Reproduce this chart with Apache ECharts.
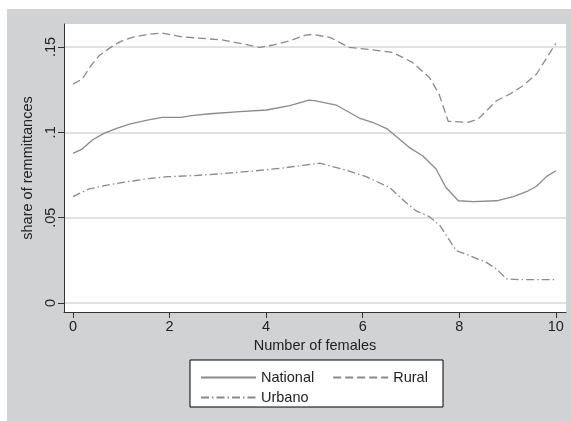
<!DOCTYPE html>
<html><head><meta charset="utf-8">
<script src="https://cdn.jsdelivr.net/npm/echarts@6/dist/echarts.min.js"></script>
<style>
html,body{margin:0;padding:0;background:#fff;width:571px;height:421px;overflow:hidden}
#c{position:absolute;left:7px;top:9px;width:564px;height:412px;background:#d1d2d4}
</style></head><body><div id="c"></div>
<script>
// Data
const xTicks = [0, 2, 4, 6, 8, 10];
const yTicks = [0, 0.05, 0.1, 0.15];
const yTickLabels = ['0', '.05', '.1', '.15'];

const nationalX = [0,0.19,0.4,0.64,0.92,1.19,1.54,1.85,2.23,2.5,2.84,3.46,4.01,4.49,4.89,5.03,5.45,5.93,6.2,6.51,6.96,7.24,7.52,7.72,7.98,8.29,8.77,9.12,9.39,9.6,9.81,10];
const nationalY = [0.0877,0.0902,0.0955,0.0994,0.1025,0.1049,0.1072,0.1088,0.1088,0.1100,0.1109,0.1121,0.1131,0.1156,0.1189,0.1185,0.1160,0.1084,0.1059,0.1020,0.0912,0.0863,0.0785,0.0678,0.0599,0.0594,0.0599,0.0623,0.0652,0.0684,0.0742,0.0775];

const ruralX = [0,0.19,0.37,0.54,0.78,0.99,1.23,1.54,1.85,2.26,3.11,3.46,3.87,4.15,4.49,4.8,4.95,5.32,5.72,6.13,6.62,7.03,7.38,7.58,7.77,8.18,8.39,8.77,9.05,9.32,9.6,10];
const ruralY = [0.1283,0.1312,0.1390,0.1449,0.1498,0.1533,0.1557,0.1574,0.1582,0.1560,0.1541,0.1522,0.1498,0.1512,0.1537,0.1568,0.1574,0.1557,0.1498,0.1486,0.1469,0.1410,0.1322,0.1225,0.1065,0.1059,0.1078,0.1185,0.1225,0.1273,0.1342,0.1522];

const urbanoX = [0,0.33,0.71,1.19,1.54,1.95,2.47,3.11,3.8,4.35,4.77,5.11,5.65,6.07,6.55,6.89,7.1,7.38,7.6,7.94,8.22,8.56,8.77,8.98,9.25,10];
const urbanoY = [0.0623,0.0668,0.0691,0.0713,0.0728,0.0740,0.0746,0.0758,0.0775,0.0791,0.0807,0.0819,0.0779,0.0740,0.0678,0.0590,0.0541,0.0506,0.0453,0.0306,0.0277,0.0238,0.0199,0.0141,0.0137,0.0137];

const zip = (xs, ys) => xs.map((x, i) => [x, ys[i]]);
const FONT = "'Liberation Sans', Arial, sans-serif";
const LC = '#8a8a8a';

const chart = echarts.init(document.getElementById('c'), null, {renderer: 'canvas'});
chart.setOption({
  animation: false,
  grid: {left: 57, top: 15, width: 502, height: 288, show: true, backgroundColor: '#ffffff', borderWidth: 0},
  xAxis: {
    type: 'value', min: -0.186, max: 10.21,
    name: 'Number of females', nameLocation: 'middle', nameGap: 24,
    nameTextStyle: {fontFamily: FONT, fontSize: 14.5, color: '#222'},
    axisLine: {show: true, onZero: false, lineStyle: {color: '#333', width: 1}},
    axisTick: {show: true, length: 6, customValues: xTicks, lineStyle: {color: '#333'}},
    axisLabel: {customValues: xTicks, margin: 7, fontFamily: FONT, fontSize: 14.5, color: '#222'},
    splitLine: {show: false}
  },
  yAxis: {
    type: 'value', min: -0.0053, max: 0.1635,
    name: 'share of remmittances', nameLocation: 'middle', nameGap: 18, nameRotate: 90,
    nameTextStyle: {fontFamily: FONT, fontSize: 14.5, color: '#222'},
    axisLine: {show: true, onZero: false, lineStyle: {color: '#333', width: 1}},
    axisTick: {show: true, length: 6, customValues: yTicks, lineStyle: {color: '#333'}},
    axisLabel: {customValues: yTicks, rotate: 90, margin: 6, fontFamily: FONT, fontSize: 14.5, color: '#222',
      formatter: v => { const i = yTicks.findIndex(t => Math.abs(t - v) < 1e-9); return i >= 0 ? yTickLabels[i] : ''; }},
    splitLine: {show: true, lineStyle: {color: '#d9d9d9', width: 1.5}}
  },
  graphic: [{type: 'rect', z: 1, shape: {x: 183, y: 351, width: 253, height: 47},
    style: {fill: '#fff', stroke: '#000', lineWidth: 1}}],
  legend: [
    {data: ['National', 'Rural'], left: 188, top: 356, itemWidth: 55, itemHeight: 12, itemGap: 18, z: 10,
     itemStyle: {opacity: 0},
     textStyle: {fontFamily: FONT, fontSize: 14.5, color: '#222'}},
    {data: ['Urbano'], left: 188, top: 376, itemWidth: 55, itemHeight: 12, z: 10,
     itemStyle: {opacity: 0},
     textStyle: {fontFamily: FONT, fontSize: 14.5, color: '#222'}}
  ],
  series: [
    {name: 'National', type: 'line', data: zip(nationalX, nationalY), symbol: 'none', clip: false,
     lineStyle: {color: LC, width: 1.3, type: 'solid'}, itemStyle: {color: LC}},
    {name: 'Rural', type: 'line', data: zip(ruralX, ruralY), symbol: 'none', clip: false,
     lineStyle: {color: LC, width: 1.3, type: [8, 4]}, itemStyle: {color: LC}},
    {name: 'Urbano', type: 'line', data: zip(urbanoX, urbanoY), symbol: 'none', clip: false,
     lineStyle: {color: LC, width: 1.3, type: [8, 3, 1.5, 3]}, itemStyle: {color: LC}}
  ]
});
</script></body></html>
